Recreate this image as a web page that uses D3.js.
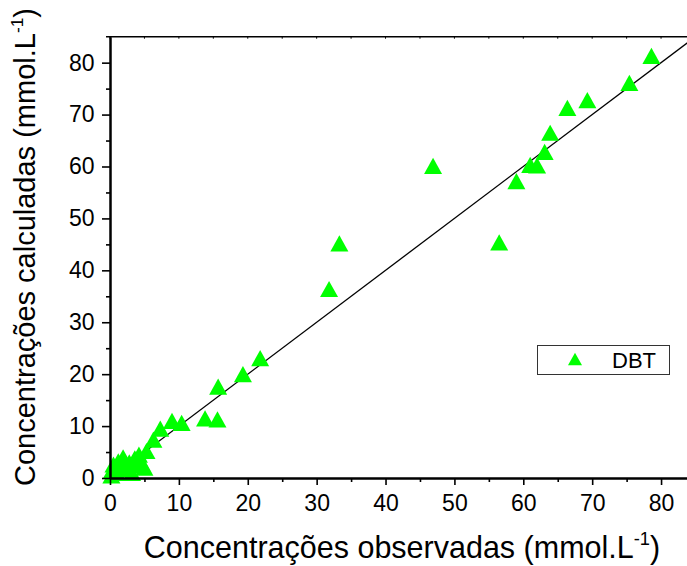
<!DOCTYPE html>
<html>
<head>
<meta charset="utf-8">
<script src="https://cdn.jsdelivr.net/npm/d3@7"></script>
<style>
  html, body { margin: 0; padding: 0; background: #fff; }
  svg { display: block; font-family: Arial, "Liberation Sans", sans-serif; }
</style>
</head>
<body>
<svg id="chart" width="687" height="566"></svg>
<script>
// ---- data ----
const seriesName = "DBT";
const observed = [78.6, 75.4, 69.3, 66.4, 63.9, 63.1, 61.0, 62.0, 59.0, 56.5, 46.9, 33.3, 31.8,
  21.8, 19.3, 15.7, 15.6, 13.8, 10.4, 9.0, 7.3, 6.3, 5.3, 4.6, 3.6, 3.0, 2.1, 1.9, 1.0, 0.5, 0.3,
  0.2, 1.2, 2.8, 3.2, 4.2, 5.0];
const calculated = [81.3, 76.1, 72.8, 71.3, 66.5, 62.8, 60.3, 60.2, 57.2, 45.4, 60.1, 45.2, 36.4,
  23.1, 20.0, 17.6, 11.3, 11.5, 10.6, 11.0, 9.5, 7.4, 5.2, 2.8, 3.8, 2.5, 1.7, 4.0, 1.0, 2.6, 1.5,
  0.5, 3.2, 3.0, 1.0, 4.5, 2.0];
const lineX = [0, 85];           // y = x reference line
const majorTicks = [0, 10, 20, 30, 40, 50, 60, 70, 80];
const minorTicks = [5, 15, 25, 35, 45, 55, 65, 75, 85];
const xTitle = "Concentrações observadas (mmol.L";
const yTitle = "Concentrações calculadas (mmol.L";
const unitSup = "-1";

// ---- layout ----
const svg = d3.select("#chart");
const x = d3.scaleLinear().domain([0, 85]).range([110, 695.5]);
const y = d3.scaleLinear().domain([0, 85]).range([478, 36.7]);

svg.append("defs").append("clipPath").attr("id", "plotclip")
  .append("rect").attr("x", 110).attr("y", 36.7).attr("width", 585.5).attr("height", 441.3);

// top frame line
svg.append("line").attr("x1", 106).attr("x2", 695.5).attr("y1", y(85)).attr("y2", y(85))
  .attr("stroke", "#000").attr("stroke-width", 1.6);
svg.append("g").selectAll("line").data(majorTicks.concat(minorTicks)).join("line")
  .attr("x1", d => x(d)).attr("x2", d => x(d))
  .attr("y1", y(85)).attr("y2", y(85) + 2)
  .attr("stroke", "#000").attr("stroke-width", 1);

// reference line
svg.append("line")
  .attr("clip-path", "url(#plotclip)")
  .attr("x1", x(lineX[0])).attr("y1", y(lineX[0]))
  .attr("x2", x(lineX[1])).attr("y2", y(lineX[1]))
  .attr("stroke", "#000").attr("stroke-width", 1.3);

// triangle symbol (bbox-centred)
const triUp = {
  draw(ctx, size) {
    const w = Math.sqrt(size), h = w * 0.9;
    ctx.moveTo(0, -h / 2);
    ctx.lineTo(w / 2, h / 2);
    ctx.lineTo(-w / 2, h / 2);
    ctx.closePath();
  }
};
const pts = observed.map((v, i) => ({ o: v, c: calculated[i] }));
svg.append("g").selectAll("path").data(pts).join("path")
  .attr("d", d3.symbol().type(triUp).size(18 * 18))
  .attr("transform", d => `translate(${x(d.o)},${y(d.c)})`)
  .attr("fill", "#00ff00");

// axes
const fontSize = 23;
svg.append("g").attr("transform", `translate(0,${y(0)})`)
  .call(d3.axisBottom(x).tickValues(majorTicks).tickFormat(d3.format("d"))
    .tickSize(7).tickSizeOuter(0).tickPadding(10));
svg.append("g").attr("transform", `translate(0,${y(0)})`)
  .call(d3.axisBottom(x).tickValues(minorTicks).tickFormat("").tickSize(4).tickSizeOuter(0));
svg.append("g").attr("transform", `translate(${x(0)},0)`)
  .call(d3.axisLeft(y).tickValues(majorTicks).tickFormat(d3.format("d"))
    .tickSize(8).tickSizeOuter(0).tickPadding(7.5));
svg.append("g").attr("transform", `translate(${x(0)},0)`)
  .call(d3.axisLeft(y).tickValues(minorTicks.filter(v => v < 85)).tickFormat("").tickSize(4).tickSizeOuter(0));

svg.selectAll(".domain").attr("stroke", "#000").attr("stroke-width", 2);
svg.selectAll(".tick line").attr("stroke", "#000").attr("stroke-width", 1.6);
svg.selectAll(".tick text").attr("font-size", fontSize).attr("fill", "#000")
  .attr("font-family", 'Arial, "Liberation Sans", sans-serif');

// axis titles
const xTitleSize = 30.5;
const xt = svg.append("text").attr("x", 402).attr("y", 558)
  .attr("text-anchor", "middle").attr("font-size", xTitleSize).attr("fill", "#000");
xt.append("tspan").text(xTitle);
xt.append("tspan").attr("font-size", xTitleSize * 0.6).attr("dy", -13).text(unitSup);
xt.append("tspan").attr("dy", 13).text(")");

const yTitleSize = 29;
const yt = svg.append("text").attr("transform", "translate(35,247) rotate(-90)")
  .attr("text-anchor", "middle").attr("font-size", yTitleSize).attr("fill", "#000");
yt.append("tspan").text(yTitle);
yt.append("tspan").attr("font-size", yTitleSize * 0.6).attr("dy", -12).text(unitSup);
yt.append("tspan").attr("dy", 12).text(")");

// legend
const lg = svg.append("g");
lg.append("rect").attr("x", 537.5).attr("y", 345.5).attr("width", 132).attr("height", 29)
  .attr("fill", "#fff").attr("stroke", "#333").attr("stroke-width", 1);
lg.append("path").attr("d", d3.symbol().type(triUp).size(14 * 14))
  .attr("transform", "translate(575,359)").attr("fill", "#00ff00");
lg.append("text").attr("x", 612).attr("y", 367.5).attr("font-size", 22).attr("fill", "#000").text(seriesName);
</script>
</body>
</html>
